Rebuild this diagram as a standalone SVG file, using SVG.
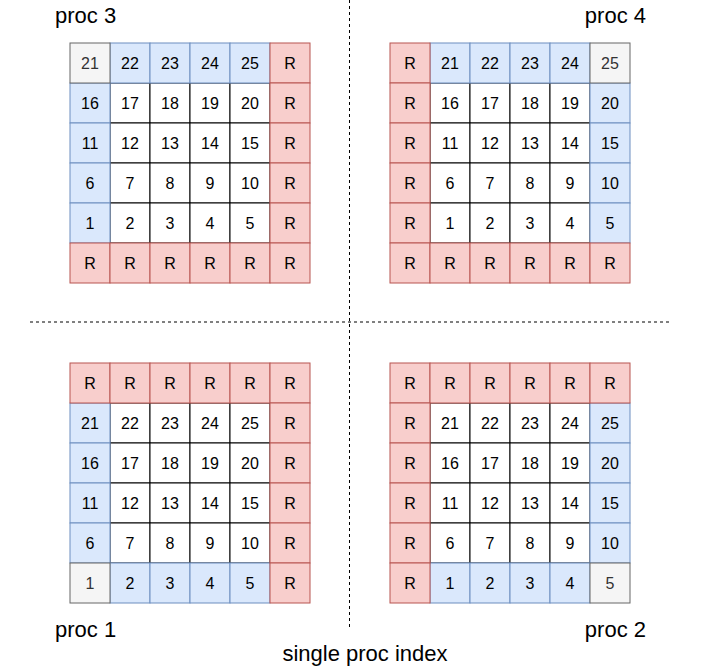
<svg xmlns="http://www.w3.org/2000/svg" width="702" height="667" viewBox="0 0 702 667">
<style>
rect{stroke-width:1}
.w{fill:#ffffff;stroke:#000000}
.b{fill:#dae8fc;stroke:#6c8ebf}
.r{fill:#f8cecc;stroke:#b85450}
.g{fill:#f5f5f5;stroke:#666666}
text{font-family:Helvetica,"Liberation Sans",Arial,sans-serif;font-size:16px;text-anchor:middle;fill:#000000}
text.gt{fill:#333333}
.lbl{font-size:22px;text-anchor:start}
.lblr{font-size:22px;text-anchor:end}
.dash{stroke:#000000;stroke-width:1;stroke-dasharray:3 3;fill:none}
</style>
<rect width="702" height="667" fill="#ffffff"/>
<g id="connectors">
<line class="dash" x1="349.5" y1="0" x2="349.5" y2="630"/>
<line class="dash" x1="30" y1="322" x2="670" y2="322"/>
</g>
<g id="proc3">
<rect class="w" x="110" y="83" width="40" height="40"/><rect class="w" x="150" y="83" width="40" height="40"/><rect class="w" x="190" y="83" width="40" height="40"/><rect class="w" x="230" y="83" width="40" height="40"/>
<rect class="w" x="110" y="123" width="40" height="40"/><rect class="w" x="150" y="123" width="40" height="40"/><rect class="w" x="190" y="123" width="40" height="40"/><rect class="w" x="230" y="123" width="40" height="40"/>
<rect class="w" x="110" y="163" width="40" height="40"/><rect class="w" x="150" y="163" width="40" height="40"/><rect class="w" x="190" y="163" width="40" height="40"/><rect class="w" x="230" y="163" width="40" height="40"/>
<rect class="w" x="110" y="203" width="40" height="40"/><rect class="w" x="150" y="203" width="40" height="40"/><rect class="w" x="190" y="203" width="40" height="40"/><rect class="w" x="230" y="203" width="40" height="40"/>
<rect class="b" x="110" y="43" width="40" height="40"/><rect class="b" x="150" y="43" width="40" height="40"/><rect class="b" x="190" y="43" width="40" height="40"/><rect class="b" x="230" y="43" width="40" height="40"/>
<rect class="b" x="70" y="83" width="40" height="40"/><rect class="b" x="70" y="123" width="40" height="40"/><rect class="b" x="70" y="163" width="40" height="40"/><rect class="b" x="70" y="203" width="40" height="40"/>
<rect class="r" x="270" y="43" width="40" height="40"/><rect class="r" x="270" y="83" width="40" height="40"/><rect class="r" x="270" y="123" width="40" height="40"/><rect class="r" x="270" y="163" width="40" height="40"/><rect class="r" x="270" y="203" width="40" height="40"/>
<rect class="r" x="70" y="243" width="40" height="40"/><rect class="r" x="110" y="243" width="40" height="40"/><rect class="r" x="150" y="243" width="40" height="40"/><rect class="r" x="190" y="243" width="40" height="40"/><rect class="r" x="230" y="243" width="40" height="40"/><rect class="r" x="270" y="243" width="40" height="40"/>
<rect class="g" x="70" y="43" width="40" height="40"/>
<text class="gt" x="90" y="69">21</text><text x="130" y="69">22</text><text x="170" y="69">23</text><text x="210" y="69">24</text><text x="250" y="69">25</text><text x="290" y="69">R</text>
<text x="90" y="109">16</text><text x="130" y="109">17</text><text x="170" y="109">18</text><text x="210" y="109">19</text><text x="250" y="109">20</text><text x="290" y="109">R</text>
<text x="90" y="149">11</text><text x="130" y="149">12</text><text x="170" y="149">13</text><text x="210" y="149">14</text><text x="250" y="149">15</text><text x="290" y="149">R</text>
<text x="90" y="189">6</text><text x="130" y="189">7</text><text x="170" y="189">8</text><text x="210" y="189">9</text><text x="250" y="189">10</text><text x="290" y="189">R</text>
<text x="90" y="229">1</text><text x="130" y="229">2</text><text x="170" y="229">3</text><text x="210" y="229">4</text><text x="250" y="229">5</text><text x="290" y="229">R</text>
<text x="90" y="269">R</text><text x="130" y="269">R</text><text x="170" y="269">R</text><text x="210" y="269">R</text><text x="250" y="269">R</text><text x="290" y="269">R</text>
</g>
<g id="proc4">
<rect class="w" x="430" y="83" width="40" height="40"/><rect class="w" x="470" y="83" width="40" height="40"/><rect class="w" x="510" y="83" width="40" height="40"/><rect class="w" x="550" y="83" width="40" height="40"/>
<rect class="w" x="430" y="123" width="40" height="40"/><rect class="w" x="470" y="123" width="40" height="40"/><rect class="w" x="510" y="123" width="40" height="40"/><rect class="w" x="550" y="123" width="40" height="40"/>
<rect class="w" x="430" y="163" width="40" height="40"/><rect class="w" x="470" y="163" width="40" height="40"/><rect class="w" x="510" y="163" width="40" height="40"/><rect class="w" x="550" y="163" width="40" height="40"/>
<rect class="w" x="430" y="203" width="40" height="40"/><rect class="w" x="470" y="203" width="40" height="40"/><rect class="w" x="510" y="203" width="40" height="40"/><rect class="w" x="550" y="203" width="40" height="40"/>
<rect class="b" x="430" y="43" width="40" height="40"/><rect class="b" x="470" y="43" width="40" height="40"/><rect class="b" x="510" y="43" width="40" height="40"/><rect class="b" x="550" y="43" width="40" height="40"/>
<rect class="b" x="590" y="83" width="40" height="40"/><rect class="b" x="590" y="123" width="40" height="40"/><rect class="b" x="590" y="163" width="40" height="40"/><rect class="b" x="590" y="203" width="40" height="40"/>
<rect class="r" x="390" y="43" width="40" height="40"/><rect class="r" x="390" y="83" width="40" height="40"/><rect class="r" x="390" y="123" width="40" height="40"/><rect class="r" x="390" y="163" width="40" height="40"/><rect class="r" x="390" y="203" width="40" height="40"/>
<rect class="r" x="390" y="243" width="40" height="40"/><rect class="r" x="430" y="243" width="40" height="40"/><rect class="r" x="470" y="243" width="40" height="40"/><rect class="r" x="510" y="243" width="40" height="40"/><rect class="r" x="550" y="243" width="40" height="40"/><rect class="r" x="590" y="243" width="40" height="40"/>
<rect class="g" x="590" y="43" width="40" height="40"/>
<text x="410" y="69">R</text><text x="450" y="69">21</text><text x="490" y="69">22</text><text x="530" y="69">23</text><text x="570" y="69">24</text><text class="gt" x="610" y="69">25</text>
<text x="410" y="109">R</text><text x="450" y="109">16</text><text x="490" y="109">17</text><text x="530" y="109">18</text><text x="570" y="109">19</text><text x="610" y="109">20</text>
<text x="410" y="149">R</text><text x="450" y="149">11</text><text x="490" y="149">12</text><text x="530" y="149">13</text><text x="570" y="149">14</text><text x="610" y="149">15</text>
<text x="410" y="189">R</text><text x="450" y="189">6</text><text x="490" y="189">7</text><text x="530" y="189">8</text><text x="570" y="189">9</text><text x="610" y="189">10</text>
<text x="410" y="229">R</text><text x="450" y="229">1</text><text x="490" y="229">2</text><text x="530" y="229">3</text><text x="570" y="229">4</text><text x="610" y="229">5</text>
<text x="410" y="269">R</text><text x="450" y="269">R</text><text x="490" y="269">R</text><text x="530" y="269">R</text><text x="570" y="269">R</text><text x="610" y="269">R</text>
</g>
<g id="proc1">
<rect class="w" x="110" y="403" width="40" height="40"/><rect class="w" x="150" y="403" width="40" height="40"/><rect class="w" x="190" y="403" width="40" height="40"/><rect class="w" x="230" y="403" width="40" height="40"/>
<rect class="w" x="110" y="443" width="40" height="40"/><rect class="w" x="150" y="443" width="40" height="40"/><rect class="w" x="190" y="443" width="40" height="40"/><rect class="w" x="230" y="443" width="40" height="40"/>
<rect class="w" x="110" y="483" width="40" height="40"/><rect class="w" x="150" y="483" width="40" height="40"/><rect class="w" x="190" y="483" width="40" height="40"/><rect class="w" x="230" y="483" width="40" height="40"/>
<rect class="w" x="110" y="523" width="40" height="40"/><rect class="w" x="150" y="523" width="40" height="40"/><rect class="w" x="190" y="523" width="40" height="40"/><rect class="w" x="230" y="523" width="40" height="40"/>
<rect class="b" x="70" y="403" width="40" height="40"/><rect class="b" x="70" y="443" width="40" height="40"/><rect class="b" x="70" y="483" width="40" height="40"/><rect class="b" x="70" y="523" width="40" height="40"/>
<rect class="b" x="110" y="563" width="40" height="40"/><rect class="b" x="150" y="563" width="40" height="40"/><rect class="b" x="190" y="563" width="40" height="40"/><rect class="b" x="230" y="563" width="40" height="40"/>
<rect class="r" x="70" y="363" width="40" height="40"/><rect class="r" x="110" y="363" width="40" height="40"/><rect class="r" x="150" y="363" width="40" height="40"/><rect class="r" x="190" y="363" width="40" height="40"/><rect class="r" x="230" y="363" width="40" height="40"/><rect class="r" x="270" y="363" width="40" height="40"/>
<rect class="r" x="270" y="403" width="40" height="40"/><rect class="r" x="270" y="443" width="40" height="40"/><rect class="r" x="270" y="483" width="40" height="40"/><rect class="r" x="270" y="523" width="40" height="40"/><rect class="r" x="270" y="563" width="40" height="40"/>
<rect class="g" x="70" y="563" width="40" height="40"/>
<text x="90" y="389">R</text><text x="130" y="389">R</text><text x="170" y="389">R</text><text x="210" y="389">R</text><text x="250" y="389">R</text><text x="290" y="389">R</text>
<text x="90" y="429">21</text><text x="130" y="429">22</text><text x="170" y="429">23</text><text x="210" y="429">24</text><text x="250" y="429">25</text><text x="290" y="429">R</text>
<text x="90" y="469">16</text><text x="130" y="469">17</text><text x="170" y="469">18</text><text x="210" y="469">19</text><text x="250" y="469">20</text><text x="290" y="469">R</text>
<text x="90" y="509">11</text><text x="130" y="509">12</text><text x="170" y="509">13</text><text x="210" y="509">14</text><text x="250" y="509">15</text><text x="290" y="509">R</text>
<text x="90" y="549">6</text><text x="130" y="549">7</text><text x="170" y="549">8</text><text x="210" y="549">9</text><text x="250" y="549">10</text><text x="290" y="549">R</text>
<text class="gt" x="90" y="589">1</text><text x="130" y="589">2</text><text x="170" y="589">3</text><text x="210" y="589">4</text><text x="250" y="589">5</text><text x="290" y="589">R</text>
</g>
<g id="proc2">
<rect class="w" x="430" y="403" width="40" height="40"/><rect class="w" x="470" y="403" width="40" height="40"/><rect class="w" x="510" y="403" width="40" height="40"/><rect class="w" x="550" y="403" width="40" height="40"/>
<rect class="w" x="430" y="443" width="40" height="40"/><rect class="w" x="470" y="443" width="40" height="40"/><rect class="w" x="510" y="443" width="40" height="40"/><rect class="w" x="550" y="443" width="40" height="40"/>
<rect class="w" x="430" y="483" width="40" height="40"/><rect class="w" x="470" y="483" width="40" height="40"/><rect class="w" x="510" y="483" width="40" height="40"/><rect class="w" x="550" y="483" width="40" height="40"/>
<rect class="w" x="430" y="523" width="40" height="40"/><rect class="w" x="470" y="523" width="40" height="40"/><rect class="w" x="510" y="523" width="40" height="40"/><rect class="w" x="550" y="523" width="40" height="40"/>
<rect class="b" x="590" y="403" width="40" height="40"/><rect class="b" x="590" y="443" width="40" height="40"/><rect class="b" x="590" y="483" width="40" height="40"/><rect class="b" x="590" y="523" width="40" height="40"/>
<rect class="b" x="430" y="563" width="40" height="40"/><rect class="b" x="470" y="563" width="40" height="40"/><rect class="b" x="510" y="563" width="40" height="40"/><rect class="b" x="550" y="563" width="40" height="40"/>
<rect class="r" x="390" y="363" width="40" height="40"/><rect class="r" x="430" y="363" width="40" height="40"/><rect class="r" x="470" y="363" width="40" height="40"/><rect class="r" x="510" y="363" width="40" height="40"/><rect class="r" x="550" y="363" width="40" height="40"/><rect class="r" x="590" y="363" width="40" height="40"/>
<rect class="r" x="390" y="403" width="40" height="40"/><rect class="r" x="390" y="443" width="40" height="40"/><rect class="r" x="390" y="483" width="40" height="40"/><rect class="r" x="390" y="523" width="40" height="40"/><rect class="r" x="390" y="563" width="40" height="40"/>
<rect class="g" x="590" y="563" width="40" height="40"/>
<text x="410" y="389">R</text><text x="450" y="389">R</text><text x="490" y="389">R</text><text x="530" y="389">R</text><text x="570" y="389">R</text><text x="610" y="389">R</text>
<text x="410" y="429">R</text><text x="450" y="429">21</text><text x="490" y="429">22</text><text x="530" y="429">23</text><text x="570" y="429">24</text><text x="610" y="429">25</text>
<text x="410" y="469">R</text><text x="450" y="469">16</text><text x="490" y="469">17</text><text x="530" y="469">18</text><text x="570" y="469">19</text><text x="610" y="469">20</text>
<text x="410" y="509">R</text><text x="450" y="509">11</text><text x="490" y="509">12</text><text x="530" y="509">13</text><text x="570" y="509">14</text><text x="610" y="509">15</text>
<text x="410" y="549">R</text><text x="450" y="549">6</text><text x="490" y="549">7</text><text x="530" y="549">8</text><text x="570" y="549">9</text><text x="610" y="549">10</text>
<text x="410" y="589">R</text><text x="450" y="589">1</text><text x="490" y="589">2</text><text x="530" y="589">3</text><text x="570" y="589">4</text><text class="gt" x="610" y="589">5</text>
</g>
<g id="labels">
<text class="lbl" x="55" y="23">proc 3</text>
<text class="lblr" x="646" y="23">proc 4</text>
<text class="lbl" x="55" y="637">proc 1</text>
<text class="lblr" x="646" y="637">proc 2</text>
<text x="365" y="661" style="font-size:22px">single proc index</text>
</g>
</svg>
